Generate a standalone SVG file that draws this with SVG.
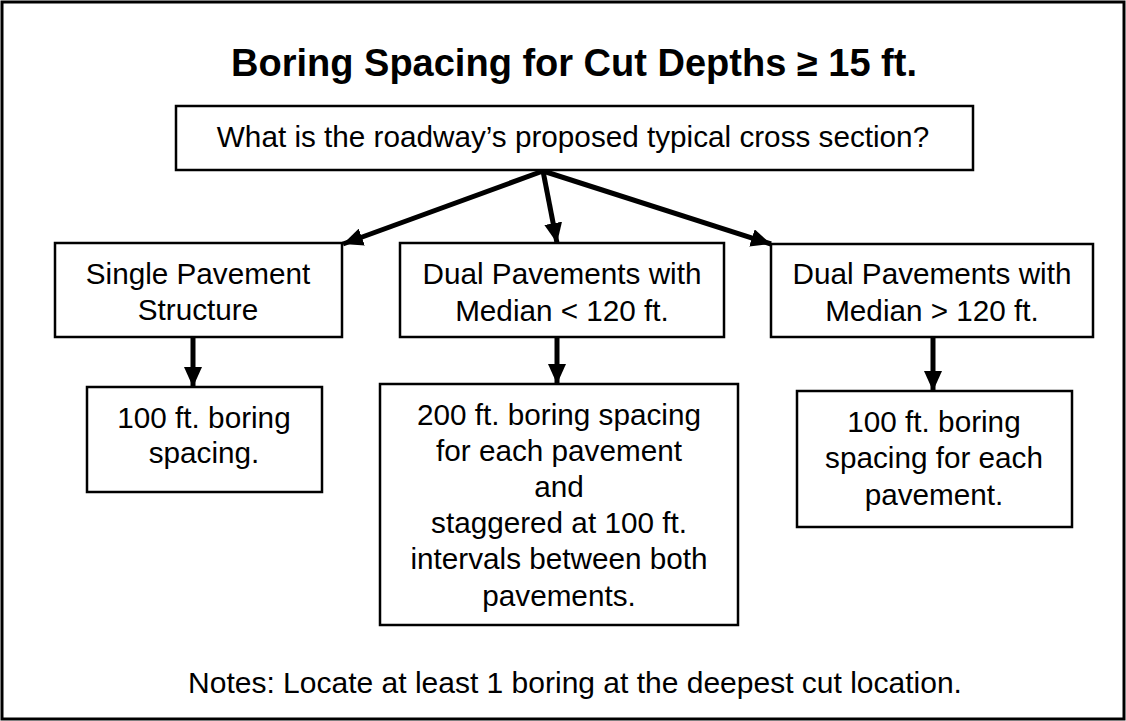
<svg xmlns="http://www.w3.org/2000/svg" width="1126" height="721" viewBox="0 0 1126 721">
<style>
.box{fill:#fff;stroke:#000;stroke-width:2.5}
.t{font-family:"Liberation Sans",Arial,sans-serif;font-size:29.7px;fill:#000;text-anchor:middle}
.title{font-family:"Liberation Sans",Arial,sans-serif;font-size:38px;font-weight:bold;fill:#000;text-anchor:middle}
.c{stroke:#000;stroke-width:5;fill:none;marker-end:url(#ah)}
</style>
<defs>
<marker id="ah" markerUnits="userSpaceOnUse" markerWidth="22" markerHeight="18" refX="20" refY="9" orient="auto">
<path d="M0,0 L20,9 L0,18 Z" fill="#000"/>
</marker>
</defs>
<rect x="2" y="2" width="1122" height="717" fill="#fff" stroke="#000" stroke-width="3"/>
<text class="title" x="574" y="76">Boring Spacing for Cut Depths ≥ 15 ft.</text>
<g id="connectors">
<line class="c" x1="543" y1="171" x2="343" y2="244"/>
<line class="c" x1="543" y1="171" x2="557" y2="243"/>
<line class="c" x1="543" y1="171" x2="771" y2="244"/>
<line class="c" x1="193" y1="337" x2="193" y2="387"/>
<line class="c" x1="557" y1="337" x2="557" y2="384"/>
<line class="c" x1="933" y1="337" x2="933" y2="391"/>
</g>
<g id="question">
<rect class="box" x="176" y="106" width="797" height="64"/>
<text class="t" x="573" y="147">What is the roadway’s proposed typical cross section?</text>
</g>
<g id="single">
<rect class="box" x="55" y="243" width="287" height="94"/>
<text class="t" x="198" y="284">Single Pavement</text>
<text class="t" x="198" y="320">Structure</text>
</g>
<g id="dual-less">
<rect class="box" x="400" y="243" width="324" height="94"/>
<text class="t" x="562" y="284">Dual Pavements with</text>
<text class="t" x="562" y="321">Median &lt; 120 ft.</text>
</g>
<g id="dual-more">
<rect class="box" x="771" y="244" width="322" height="93"/>
<text class="t" x="932" y="284">Dual Pavements with</text>
<text class="t" x="932" y="321">Median &gt; 120 ft.</text>
</g>
<g id="result-single">
<rect class="box" x="87" y="387" width="235" height="105"/>
<text class="t" x="204" y="428">100 ft. boring</text>
<text class="t" x="204" y="463">spacing.</text>
</g>
<g id="result-dual-less">
<rect class="box" x="380" y="384" width="358" height="241"/>
<text class="t" x="559" y="425">200 ft. boring spacing</text>
<text class="t" x="559" y="461">for each pavement</text>
<text class="t" x="559" y="497">and</text>
<text class="t" x="559" y="533">staggered at 100 ft.</text>
<text class="t" x="559" y="569">intervals between both</text>
<text class="t" x="559" y="606">pavements.</text>
</g>
<g id="result-dual-more">
<rect class="box" x="797" y="391" width="275" height="136"/>
<text class="t" x="934" y="432">100 ft. boring</text>
<text class="t" x="934" y="468">spacing for each</text>
<text class="t" x="934" y="505">pavement.</text>
</g>
<g id="notes">
<text class="t" x="575" y="693" style="font-size:30px">Notes: Locate at least 1 boring at the deepest cut location.</text>
</g>
</svg>
